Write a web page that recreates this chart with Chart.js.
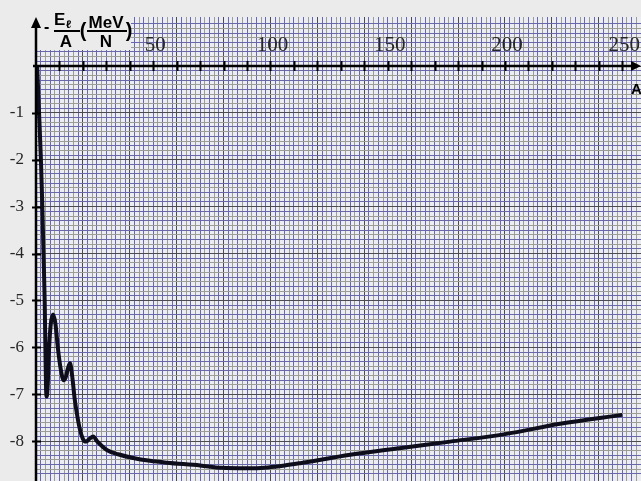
<!DOCTYPE html>
<html>
<head>
<meta charset="utf-8">
<script src="https://cdn.jsdelivr.net/npm/chart.js@4/dist/chart.umd.min.js"></script>
<style>
  html, body { margin: 0; padding: 0; background: #ebebeb; }
  canvas { display: block; }
</style>
</head>
<body>
<canvas id="bindingChart" width="641" height="481"></canvas>
<script>
// mass number A and binding energy per nucleon (MeV/N)
const massNumbers = [0.5, 1.3, 2.1, 2.7, 3.2, 3.7, 4.0, 4.3, 4.6, 5.0, 5.6, 6.3, 7.3, 8.3, 9.3, 10.5, 11.8, 12.6, 13.6, 14.5, 15.4, 16.5, 17.4, 18.5, 20, 21.3, 22.8, 24.4, 26, 28, 30.2, 35, 41.4, 48.6, 55.8, 70, 79, 90, 99, 106, 112.6, 134, 155, 176.6, 200, 223.5, 250];
const energies = [0, -1, -2, -3, -4, -5, -6, -6.9, -7.05, -6.8, -6.0, -5.5, -5.3, -5.5, -6.0, -6.45, -6.7, -6.65, -6.45, -6.34, -6.6, -7.1, -7.4, -7.7, -7.95, -8.01, -7.95, -7.9, -8.0, -8.1, -8.19, -8.28, -8.36, -8.42, -8.46, -8.52, -8.57, -8.58, -8.56, -8.52, -8.47, -8.29, -8.15, -8.01, -7.85, -7.63, -7.44];

const xLabels = [50, 100, 150, 200, 250];
const xTickMarks = [10, 20, 30, 40, 50, 60, 70, 80, 90, 100, 110, 120, 130, 140, 150, 160, 170, 180, 190, 200, 210, 220, 230, 240, 250];
const yLabels = [-1, -2, -3, -4, -5, -6, -7, -8];

const bgGray = '#ebebeb';
const paper = '#ececf3';
const blueLine = '#6868aa';
const grayLine = '#9c9d96';
const majorLine = '#4c4c50';

const points = massNumbers.map((a, i) => ({ x: a, y: energies[i] }));

// graph paper grid colour per tick
const xGridColor = (ctx) => {
    const v = ctx.tick.value;
    if (Math.abs(v / 2 - Math.round(v / 2)) > 0.01) return 'transparent';
    const k = Math.round(v / 2);
    if (k % 10 === 0) return majorLine;
    return k % 2 ? blueLine : grayLine;
};
const yGridColor = (ctx) => {
    const v = ctx.tick.value;
    const k = Math.round(v * 10);
    if (Math.abs(v * 10 - k) > 0.01) return 'transparent';
    if (k % 10 === 0) return majorLine;
    return k % 2 ? blueLine : grayLine;
};

const drawing = {
    id: 'drawing',
    beforeDraw(chart) {
        const { ctx, chartArea } = chart;
        ctx.save();
        ctx.fillStyle = bgGray;
        ctx.fillRect(0, 0, chart.width, chart.height);
        ctx.fillStyle = paper;
        ctx.fillRect(chartArea.left, chartArea.top, chartArea.right - chartArea.left, chartArea.bottom - chartArea.top);
        ctx.restore();
    },
    beforeDatasetsDraw(chart) {
        // blank corner behind the axis title
        const { ctx, chartArea } = chart;
        ctx.save();
        ctx.fillStyle = bgGray;
        ctx.fillRect(chartArea.left, chartArea.top, 95, 50 - chartArea.top);
        ctx.restore();
    },
    afterDatasetsDraw(chart) {
        const { ctx, chartArea } = chart;
        const xs = chart.scales.x;
        const ys = chart.scales.y;
        const x0 = xs.getPixelForValue(0);
        const y0 = ys.getPixelForValue(0);
        ctx.save();
        ctx.strokeStyle = '#000';
        ctx.fillStyle = '#000';

        // x axis
        ctx.lineWidth = 2.5;
        ctx.beginPath();
        ctx.moveTo(x0 - 3, y0);
        ctx.lineTo(chartArea.right - 6, y0);
        ctx.stroke();
        ctx.beginPath();
        ctx.moveTo(chartArea.right, y0);
        ctx.lineTo(chartArea.right - 10, y0 - 5);
        ctx.lineTo(chartArea.right - 10, y0 + 5);
        ctx.closePath();
        ctx.fill();
        ctx.lineWidth = 2;
        xTickMarks.forEach(v => {
            const px = Math.round(xs.getPixelForValue(v)) + 0.5;
            ctx.beginPath();
            ctx.moveTo(px, y0 - 5);
            ctx.lineTo(px, y0 + 5);
            ctx.stroke();
        });

        // y axis
        ctx.lineWidth = 2.5;
        ctx.beginPath();
        ctx.moveTo(x0, 26);
        ctx.lineTo(x0, chartArea.bottom);
        ctx.stroke();
        ctx.beginPath();
        ctx.moveTo(x0, 17);
        ctx.lineTo(x0 - 5, 28);
        ctx.lineTo(x0 + 5, 28);
        ctx.closePath();
        ctx.fill();
        ctx.lineWidth = 2;
        yLabels.forEach(v => {
            const py = Math.round(ys.getPixelForValue(v)) + 0.5;
            ctx.beginPath();
            ctx.moveTo(x0 - 4, py);
            ctx.lineTo(x0 + 5, py);
            ctx.stroke();
        });

        // tick labels
        ctx.fillStyle = '#262626';
        ctx.font = '21px "Liberation Serif"';
        ctx.textAlign = 'center';
        ctx.textBaseline = 'middle';
        xLabels.forEach(v => {
            ctx.fillText(String(v), xs.getPixelForValue(v) + 2, y0 - 21);
        });
        ctx.font = '17px "Liberation Serif"';
        ctx.textAlign = 'right';
        yLabels.forEach(v => {
            ctx.fillText(String(v), 24, ys.getPixelForValue(v));
        });

        // axis names
        ctx.fillStyle = '#000';
        ctx.font = 'bold 15px "Liberation Sans"';
        ctx.textAlign = 'left';
        ctx.textBaseline = 'alphabetic';
        ctx.fillText('A', 631, 94);

        ctx.font = 'bold 16px "Liberation Sans"';
        ctx.fillText('-', 44, 32);
        ctx.font = 'bold 17px "Liberation Sans"';
        ctx.fillText('E', 54, 25);
        ctx.font = 'bold 11px "Liberation Sans"';
        ctx.fillText('ℓ', 66, 28);
        ctx.font = 'bold 17px "Liberation Sans"';
        ctx.textAlign = 'center';
        ctx.fillText('A', 66, 47);
        ctx.fillText('MeV', 106, 28);
        ctx.fillText('N', 106, 47);
        ctx.font = 'bold 20px "Liberation Sans"';
        ctx.fillText('(', 83, 37);
        ctx.fillText(')', 129, 37);
        ctx.fillRect(54, 30, 26, 2);
        ctx.fillRect(87, 30, 40, 2);
        ctx.restore();
    }
};

new Chart(document.getElementById('bindingChart'), {
    type: 'scatter',
    data: {
        datasets: [{
            data: points,
            showLine: true,
            borderColor: '#0d0d1c',
            borderWidth: 4,
            pointRadius: 0,
            cubicInterpolationMode: 'monotone',
            fill: false
        }]
    },
    options: {
        responsive: false,
        animation: false,
        devicePixelRatio: 1,
        layout: { padding: { left: 36, top: 17, right: 0, bottom: 0 } },
        plugins: { legend: { display: false }, tooltip: { enabled: false } },
        scales: {
            x: {
                type: 'linear',
                min: 0,
                max: 258,
                ticks: { display: false, stepSize: 2, autoSkip: false },
                grid: { color: xGridColor, lineWidth: 1, drawTicks: false },
                border: { display: false }
            },
            y: {
                type: 'linear',
                min: -8.85,
                max: 1.045,
                ticks: { display: false, stepSize: 0.1, autoSkip: false },
                grid: { color: yGridColor, lineWidth: 1, drawTicks: false },
                border: { display: false }
            }
        }
    },
    plugins: [drawing]
});
</script>
</body>
</html>
